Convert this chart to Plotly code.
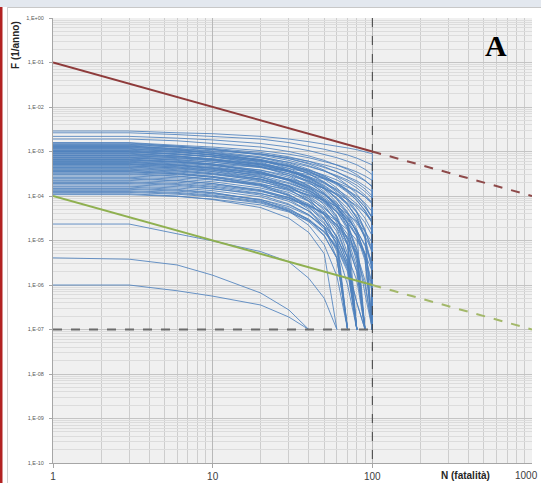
import plotly.graph_objects as go

# ---------------- data (log10 of F) ----------------
N_GRID = [1, 3, 6, 10, 20, 30, 40, 50, 60, 70, 80, 90, 100, 100]

CURVES_LOGF = [
    [-2.54, -2.54, -2.58, -2.60, -2.66, -2.72, -2.78, -2.83, -2.88, -2.92, -2.96, -3.00, -3.05, -7],
    [-2.58, -2.58, -2.62, -2.66, -2.72, -2.80, -2.88, -2.95, -3.02, -3.08, -3.15, -3.22, -3.30, -7],
    [-2.66, -2.66, -2.70, -2.74, -2.82, -2.90, -2.98, -3.06, -3.14, -3.22, -3.30, -3.40, -3.52, -7],
    [-2.72, -2.72, -2.76, -2.82, -2.90, -3.00, -3.10, -3.20, -3.30, -3.40, -3.52, -3.65, -3.80, -7],
    [-2.80, -2.80, -2.86, -2.90, -2.98, -3.06, -3.14, -3.22, -3.30, -3.38, -3.46, -3.55, -3.65, -7],
    [-2.81, -2.81, -2.88, -2.95, -3.08, -3.20, -3.32, -3.44, -3.56, -3.68, -3.82, -3.98, -4.15, -7],
    [-2.83, -2.83, -2.88, -2.93, -3.02, -3.12, -3.22, -3.34, -3.46, -3.58, -3.70, -3.84, -4.00, -7],
    [-2.84, -2.84, -2.90, -2.96, -3.06, -3.16, -3.26, -3.36, -3.46, -3.56, -3.66, -3.78, -3.90, -7],
    [-2.86, -2.86, -2.90, -2.95, -3.05, -3.16, -3.28, -3.42, -3.58, -3.76, -3.96, -4.20, -4.50, -7],
    [-2.87, -2.87, -2.95, -3.04, -3.20, -3.38, -3.58, -3.80, -4.06, -4.36, -4.75, -5.40, -7],
    [-2.88, -2.88, -2.93, -2.98, -3.06, -3.14, -3.22, -3.30, -3.38, -3.47, -3.56, -3.66, -3.78, -7],
    [-2.89, -2.89, -2.94, -3.00, -3.12, -3.25, -3.40, -3.55, -3.72, -3.90, -4.10, -4.34, -4.62, -7],
    [-2.90, -2.90, -2.96, -3.02, -3.14, -3.28, -3.44, -3.62, -3.82, -4.05, -4.35, -4.80, -7],
    [-2.91, -2.91, -2.97, -3.04, -3.18, -3.33, -3.50, -3.70, -3.92, -4.18, -4.50, -4.95, -5.70, -7],
    [-2.93, -2.93, -2.98, -3.04, -3.14, -3.24, -3.34, -3.44, -3.54, -3.64, -3.76, -3.90, -4.05, -7],
    [-2.94, -2.94, -3.00, -3.08, -3.24, -3.42, -3.64, -3.90, -4.22, -4.64, -5.30, -7],
    [-2.95, -2.95, -3.00, -3.07, -3.20, -3.34, -3.50, -3.68, -3.88, -4.10, -4.38, -4.75, -5.30, -7],
    [-2.97, -2.97, -3.02, -3.08, -3.20, -3.32, -3.45, -3.58, -3.72, -3.88, -4.05, -4.25, -4.48, -7],
    [-2.98, -2.98, -3.02, -3.08, -3.18, -3.30, -3.42, -3.56, -3.70, -3.86, -4.04, -4.25, -4.50, -7],
    [-2.99, -2.99, -3.05, -3.12, -3.28, -3.46, -3.68, -3.94, -4.26, -4.70, -5.50, -7],
    [-3.00, -3.00, -3.06, -3.12, -3.26, -3.42, -3.60, -3.82, -4.08, -4.40, -4.85, -7],
    [-3.01, -3.01, -3.06, -3.11, -3.22, -3.34, -3.46, -3.60, -3.75, -3.92, -4.10, -4.32, -4.58, -7],
    [-3.02, -3.02, -3.07, -3.12, -3.22, -3.32, -3.42, -3.53, -3.64, -3.76, -3.88, -4.02, -4.18, -7],
    [-3.04, -3.04, -3.10, -3.18, -3.34, -3.54, -3.78, -4.08, -4.48, -5.10, -7],
    [-3.05, -3.05, -3.10, -3.16, -3.28, -3.42, -3.58, -3.76, -3.96, -4.20, -4.50, -4.90, -7],
    [-3.06, -3.06, -3.11, -3.17, -3.30, -3.44, -3.60, -3.78, -3.98, -4.20, -4.46, -4.78, -5.20, -7],
    [-3.08, -3.08, -3.12, -3.18, -3.30, -3.44, -3.62, -3.85, -4.15, -4.60, -7],
    [-3.09, -3.09, -3.14, -3.20, -3.34, -3.50, -3.70, -3.94, -4.24, -4.62, -5.20, -7],
    [-3.10, -3.10, -3.14, -3.19, -3.28, -3.38, -3.48, -3.60, -3.72, -3.86, -4.00, -4.16, -4.35, -7],
    [-3.12, -3.12, -3.16, -3.21, -3.32, -3.44, -3.56, -3.70, -3.85, -4.01, -4.18, -4.38, -4.60, -7],
    [-3.13, -3.13, -3.18, -3.24, -3.36, -3.50, -3.66, -3.84, -4.04, -4.28, -4.56, -4.95, -5.60, -7],
    [-3.14, -3.14, -3.20, -3.28, -3.46, -3.66, -3.90, -4.20, -4.60, -5.30, -7],
    [-3.15, -3.15, -3.19, -3.24, -3.34, -3.46, -3.58, -3.72, -3.88, -4.06, -4.26, -4.50, -4.80, -7],
    [-3.17, -3.17, -3.22, -3.28, -3.42, -3.58, -3.76, -3.96, -4.20, -4.48, -4.82, -5.30, -6.10, -7],
    [-3.18, -3.18, -3.23, -3.30, -3.45, -3.62, -3.82, -4.06, -4.36, -4.75, -5.40, -7],
    [-3.19, -3.19, -3.24, -3.31, -3.46, -3.64, -3.86, -4.14, -4.52, -5.10, -7],
    [-3.20, -3.20, -3.24, -3.28, -3.36, -3.44, -3.52, -3.61, -3.70, -3.80, -3.90, -4.02, -4.15, -7],
    [-3.22, -3.22, -3.26, -3.31, -3.42, -3.54, -3.67, -3.82, -3.98, -4.16, -4.36, -4.60, -4.90, -7],
    [-3.23, -3.23, -3.28, -3.34, -3.48, -3.64, -3.84, -4.10, -4.45, -5.00, -7],
    [-3.24, -3.24, -3.30, -3.38, -3.56, -3.78, -4.06, -4.42, -4.95, -7],
    [-3.25, -3.25, -3.30, -3.36, -3.48, -3.62, -3.78, -3.96, -4.16, -4.38, -4.62, -4.90, -5.25, -7],
    [-3.27, -3.27, -3.31, -3.37, -3.50, -3.65, -3.82, -4.02, -4.26, -4.54, -4.90, -5.45, -7],
    [-3.28, -3.28, -3.32, -3.38, -3.50, -3.64, -3.80, -3.98, -4.20, -4.46, -4.80, -5.30, -7],
    [-3.29, -3.29, -3.34, -3.40, -3.54, -3.70, -3.88, -4.10, -4.36, -4.70, -5.20, -6.20, -7],
    [-3.30, -3.30, -3.35, -3.42, -3.58, -3.78, -4.02, -4.32, -4.72, -5.40, -7],
    [-3.32, -3.32, -3.37, -3.45, -3.62, -3.84, -4.12, -4.50, -5.10, -7],
    [-3.33, -3.33, -3.37, -3.42, -3.52, -3.62, -3.72, -3.83, -3.95, -4.08, -4.22, -4.38, -4.56, -7],
    [-3.35, -3.35, -3.39, -3.45, -3.58, -3.72, -3.88, -4.06, -4.26, -4.50, -4.78, -5.12, -5.60, -7],
    [-3.36, -3.36, -3.41, -3.48, -3.62, -3.80, -4.00, -4.25, -4.55, -4.95, -5.60, -7],
    [-3.38, -3.38, -3.43, -3.50, -3.66, -3.86, -4.10, -4.40, -4.80, -5.40, -7],
    [-3.40, -3.40, -3.44, -3.50, -3.62, -3.76, -3.92, -4.10, -4.30, -4.52, -4.78, -5.10, -5.50, -7],
    [-3.42, -3.42, -3.46, -3.52, -3.64, -3.78, -3.94, -4.12, -4.34, -4.60, -4.92, -5.35, -6.20, -7],
    [-3.43, -3.43, -3.48, -3.56, -3.74, -3.96, -4.24, -4.60, -5.10, -7],
    [-3.45, -3.45, -3.50, -3.58, -3.76, -4.00, -4.30, -4.70, -5.40, -7],
    [-3.46, -3.46, -3.50, -3.56, -3.68, -3.82, -3.98, -4.16, -4.36, -4.60, -4.90, -5.30, -6.00, -7],
    [-3.48, -3.48, -3.52, -3.58, -3.72, -3.88, -4.06, -4.28, -4.54, -4.86, -5.30, -7],
    [-3.50, -3.50, -3.55, -3.62, -3.78, -3.98, -4.22, -4.52, -4.90, -5.50, -7],
    [-3.52, -3.52, -3.56, -3.62, -3.76, -3.92, -4.12, -4.36, -4.66, -5.05, -5.70, -7],
    [-3.55, -3.55, -3.59, -3.64, -3.74, -3.85, -3.97, -4.10, -4.24, -4.40, -4.58, -4.80, -5.05, -7],
    [-3.58, -3.58, -3.62, -3.68, -3.82, -3.98, -4.18, -4.42, -4.72, -5.10, -5.70, -7],
    [-3.60, -3.60, -3.65, -3.72, -3.88, -4.08, -4.34, -4.70, -5.25, -7],
    [-3.62, -3.62, -3.66, -3.72, -3.86, -4.04, -4.26, -4.54, -4.92, -5.50, -7],
    [-3.65, -3.65, -3.69, -3.75, -3.88, -4.03, -4.20, -4.40, -4.64, -4.92, -5.30, -5.90, -7],
    [-3.68, -3.68, -3.72, -3.78, -3.90, -4.05, -4.22, -4.42, -4.66, -4.96, -5.36, -6.00, -7],
    [-3.70, -3.70, -3.74, -3.80, -3.94, -4.12, -4.34, -4.62, -5.00, -5.60, -7],
    [-3.72, -3.72, -3.76, -3.83, -3.98, -4.18, -4.42, -4.74, -5.20, -6.00, -7],
    [-3.75, -3.75, -3.79, -3.84, -3.95, -4.08, -4.22, -4.38, -4.56, -4.76, -5.00, -5.30, -5.70, -7],
    [-3.78, -3.78, -3.82, -3.88, -4.02, -4.20, -4.42, -4.70, -5.05, -5.55, -6.40, -7],
    [-3.80, -3.80, -3.85, -3.92, -4.10, -4.34, -4.66, -5.10, -5.80, -7],
    [-3.83, -3.83, -3.87, -3.93, -4.08, -4.28, -4.54, -4.88, -5.40, -7],
    [-3.85, -3.85, -3.89, -3.95, -4.08, -4.24, -4.44, -4.68, -4.98, -5.36, -5.90, -7],
    [-3.88, -3.88, -3.92, -3.98, -4.12, -4.30, -4.52, -4.80, -5.15, -5.65, -7],
    [-3.90, -3.90, -3.94, -4.00, -4.14, -4.32, -4.54, -4.82, -5.18, -5.70, -7],
    [-3.92, -3.92, -3.96, -4.02, -4.16, -4.34, -4.58, -4.90, -5.40, -7],
    [-3.95, -3.95, -4.00, -4.08, -4.26, -4.50, -4.82, -5.30, -7],
    [-3.97, -3.97, -4.01, -4.07, -4.20, -4.36, -4.56, -4.80, -5.12, -5.60, -6.40, -7],
    [-4.63, -4.63, -4.85, -5.01, -5.25, -5.48, -5.85, -6.30, -7],
    [-5.39, -5.42, -5.55, -5.78, -6.18, -6.56, -7],
    [-6.00, -6.00, -6.13, -6.25, -6.45, -6.72, -7],
]

# reference criteria lines (N, F)
UPPER_N_SOLID = [1, 100]
UPPER_F_SOLID = [1e-1, 1e-3]
UPPER_N_DASH = [100, 1000]
UPPER_F_DASH = [1e-3, 1e-4]
LOWER_N_SOLID = [1, 100]
LOWER_F_SOLID = [1e-4, 1e-6]
LOWER_N_DASH = [100, 1000]
LOWER_F_DASH = [1e-6, 1e-7]
FLOOR_N = [1, 100]
FLOOR_F = [1e-7, 1e-7]
VLINE_N = [100, 100]
VLINE_F = [1e0, 1e-10]

Y_TICK_EXP = list(range(0, -11, -1))
Y_TICK_TEXT = ["1,E+00" if e == 0 else "1,E-%02d" % (-e) for e in Y_TICK_EXP]
X_TICKS = [1, 10, 100]
X_TICK_TEXT = ["1", "10", "100"]
X_LAST_TICK = "1000"

# ---------------- figure ----------------
W, H = 541, 483
ML, MR, MT, MB = 53, 9, 18, 20
PW, PH = W - ML - MR, H - MT - MB


def px_x(x):
    return (x - ML) / PW


def px_y(y):
    return (H - MB - y) / PH


fig = go.Figure()

blue = "rgba(79,129,189,0.85)"
for c in CURVES_LOGF:
    fig.add_trace(go.Scatter(
        x=N_GRID[:len(c)], y=[10 ** v for v in c], mode="lines",
        line=dict(color=blue, width=1), hoverinfo="skip", showlegend=False))

fig.add_trace(go.Scatter(x=FLOOR_N, y=FLOOR_F, mode="lines",
                         line=dict(color="#6b6b6b", width=2, dash="dash"), showlegend=False))
fig.add_trace(go.Scatter(x=VLINE_N, y=VLINE_F, mode="lines",
                         line=dict(color="#404040", width=1, dash="dash"), showlegend=False))
fig.add_trace(go.Scatter(x=UPPER_N_SOLID, y=UPPER_F_SOLID, mode="lines",
                         line=dict(color="#8e3b3b", width=2), showlegend=False))
fig.add_trace(go.Scatter(x=UPPER_N_DASH, y=UPPER_F_DASH, mode="lines",
                         line=dict(color="#8e4a4a", width=2, dash="dash"), showlegend=False))
fig.add_trace(go.Scatter(x=LOWER_N_SOLID, y=LOWER_F_SOLID, mode="lines",
                         line=dict(color="#8fb050", width=2), showlegend=False))
fig.add_trace(go.Scatter(x=LOWER_N_DASH, y=LOWER_F_DASH, mode="lines",
                         line=dict(color="#a3b86a", width=2, dash="dash"), showlegend=False))

fig.update_xaxes(
    type="log", range=[0, 3], tickvals=X_TICKS, ticktext=X_TICK_TEXT,
    automargin=False,
    showgrid=True, gridcolor="#b8b8b8", gridwidth=1,
    minor=dict(dtick="D1", showgrid=True, gridcolor="#cdcdcd", gridwidth=1),
    zeroline=False, showline=True, linecolor="#a6a6a6", linewidth=1,
    ticks="outside", ticklen=4, tickcolor="#a6a6a6", ticklabelstandoff=0,
    tickfont=dict(family="Liberation Sans", size=10, color="#404040"),
)
fig.update_yaxes(
    type="log", range=[-10, 0], tickvals=[10 ** e for e in Y_TICK_EXP], ticktext=Y_TICK_TEXT,
    automargin=False,
    showgrid=True, gridcolor="#c4c4c4", gridwidth=1,
    minor=dict(dtick="D1", showgrid=True, gridcolor="#dcdcdc", gridwidth=1),
    zeroline=False, showline=True, linecolor="#a6a6a6", linewidth=1,
    ticks="outside", ticklen=3, tickcolor="#a6a6a6", ticklabelstandoff=4,
    tickfont=dict(family="Liberation Sans", size=5.5, color="#595959"),
)

fig.update_layout(
    width=W, height=H,
    margin=dict(l=ML, r=MR, t=MT, b=MB, pad=0, autoexpand=False),
    paper_bgcolor="white", plot_bgcolor="#f0f0f0",
    showlegend=False,
    shapes=[
        dict(type="rect", xref="paper", yref="paper", layer="below",
             x0=px_x(0), x1=px_x(W), y0=px_y(0), y1=px_y(7),
             fillcolor="#e3e8ef", line=dict(width=0)),
        dict(type="line", xref="paper", yref="paper",
             x0=px_x(7), x1=px_x(W), y0=px_y(7.5), y1=px_y(7.5),
             line=dict(color="#c8c8c8", width=1)),
        dict(type="line", xref="paper", yref="paper",
             x0=px_x(7.5), x1=px_x(7.5), y0=px_y(7), y1=px_y(H),
             line=dict(color="#d0d0d0", width=1)),
        dict(type="rect", xref="paper", yref="paper",
             x0=px_x(0), x1=px_x(2.5), y0=px_y(7), y1=px_y(H),
             fillcolor="#b22222", line=dict(width=0)),
    ],
    annotations=[
        dict(text="<b>F (1/anno)</b>", xref="paper", yref="paper",
             x=px_x(15), y=px_y(45), textangle=-90, showarrow=False,
             xanchor="center", yanchor="middle",
             font=dict(family="Liberation Sans", size=10, color="#262626")),
        dict(text="<b>N (fatalità)</b>", xref="paper", yref="paper",
             x=px_x(465), y=px_y(476), showarrow=False,
             xanchor="center", yanchor="middle",
             font=dict(family="Liberation Sans", size=10, color="#262626")),
        dict(text=X_LAST_TICK, xref="paper", yref="paper",
             x=px_x(540), y=px_y(476), showarrow=False,
             xanchor="right", yanchor="middle",
             font=dict(family="Liberation Sans", size=10, color="#404040")),
        dict(text="<b>A</b>", xref="paper", yref="paper",
             x=px_x(496), y=px_y(45), showarrow=False,
             xanchor="center", yanchor="middle",
             font=dict(family="Liberation Serif", size=30, color="black")),
    ],
)

fig.write_html("out.html")
